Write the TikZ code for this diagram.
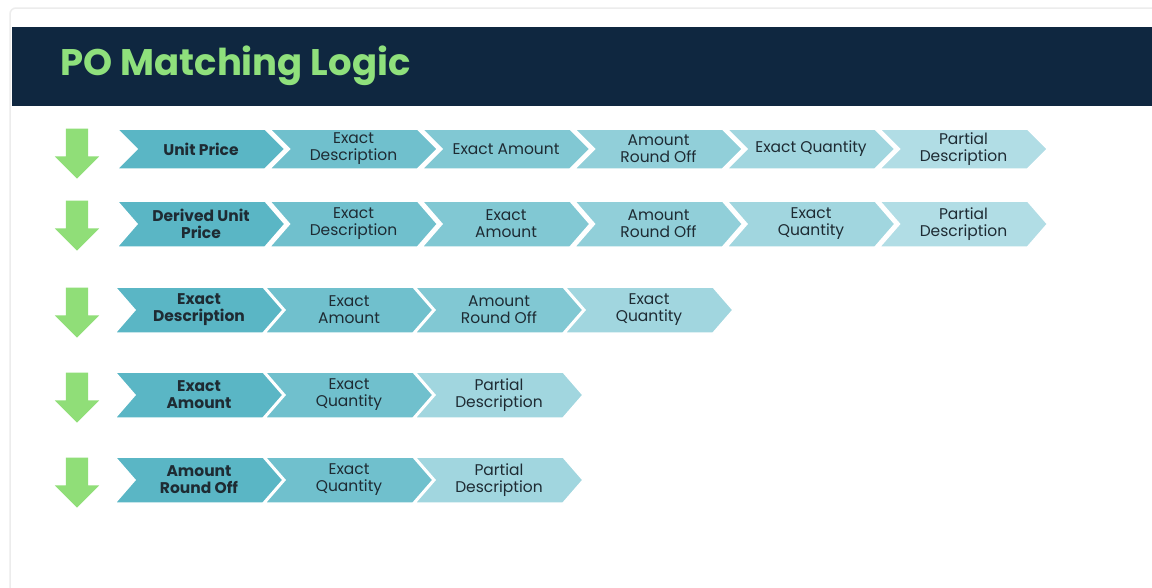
\documentclass[tikz,border=0pt]{standalone}
\usepackage{fontspec}
\setmainfont{Poppins}
\usetikzlibrary{shapes.symbols, shapes.arrows, positioning}
\definecolor{bannerblue}{HTML}{0F2740}
\definecolor{titlegreen}{HTML}{8FE07C}
\definecolor{arrowgreen}{HTML}{90DE78}
\definecolor{labelgray}{HTML}{1E2B33}
\definecolor{frameline}{HTML}{ECECEC}
\definecolor{tealA}{HTML}{5AB6C5}
\definecolor{tealB}{HTML}{70C0CD}
\definecolor{tealC}{HTML}{81C8D3}
\definecolor{tealD}{HTML}{91CFD9}
\definecolor{tealE}{HTML}{A1D6DF}
\definecolor{tealF}{HTML}{B1DDE5}

\begin{document}
\begin{tikzpicture}[x=1pt, y=-1pt,
		stepnode/.style={signal, signal from=west, signal to=east, signal pointer angle=98, minimum width=168pt, minimum height=46pt, inner sep=0pt, draw=white, line width=1.5pt, align=center, text=labelgray, font=\fontsize{15.5}{17}\selectfont},
		toprow/.style={minimum height=40pt, signal pointer angle=90},
		firststep/.style={stepnode, fill=tealA, font=\fontsize{15.5}{17}\selectfont\bfseries},
		downarrow/.style={single arrow, shape border rotate=270, fill=arrowgreen, draw=none, minimum height=50pt, minimum width=44pt, single arrow head extend=11pt, single arrow head indent=0pt, inner sep=11pt},
		]
		% Frame and banner
		\useasboundingbox (0,0) rectangle (1152,587);
		\fill[white] (0,0) rectangle (1152,587);
		\draw[frameline, line width=1.5pt, rounded corners=6pt] (10,600) -- (10,8) -- (1160,8);
		\fill[bannerblue] (12,27) rectangle (1152,106);
		\node[anchor=west, text=titlegreen, font=\fontsize{37}{40}\selectfont\bfseries] (title) at (57,66) {PO Matching Logic};

		% Nodes
		\node[downarrow]                        (arrow_row1)  at (77,148)   {};
		\node[downarrow]                        (arrow_row2)  at (77,220)   {};
		\node[downarrow]                        (arrow_row3)  at (77,307)   {};
		\node[downarrow]                        (arrow_row4)  at (77,392)   {};
		\node[downarrow]                        (arrow_row5)  at (77,477)   {};

		\node[firststep, toprow]                (unit_price_row1)       at (201,149)     {Unit Price};
		\node[stepnode, toprow, fill=tealB]     (exact_desc_row1)       at (353.5,149)   {Exact\\Description};
		\node[stepnode, toprow, fill=tealC]     (exact_amount_row1)     at (506,149)     {Exact Amount};
		\node[stepnode, toprow, fill=tealD]     (round_off_row1)        at (658.5,149)   {Amount\\Round Off};
		\node[stepnode, toprow, fill=tealE]     (exact_qty_row1)        at (811,149)     {Exact Quantity};
		\node[stepnode, toprow, fill=tealF]     (partial_desc_row1)     at (963.5,149)   {Partial\\Description};

		\node[firststep]                        (derived_price_row2)    at (201,224)     {Derived Unit\\Price};
		\node[stepnode, fill=tealB]             (exact_desc_row2)       at (353.5,224)   {Exact\\Description};
		\node[stepnode, fill=tealC]             (exact_amount_row2)     at (506,224)     {Exact\\Amount};
		\node[stepnode, fill=tealD]             (round_off_row2)        at (658.5,224)   {Amount\\Round Off};
		\node[stepnode, fill=tealE]             (exact_qty_row2)        at (811,224)     {Exact\\Quantity};
		\node[stepnode, fill=tealF]             (partial_desc_row2)     at (963.5,224)   {Partial\\Description};

		\node[firststep]                        (exact_desc_row3)       at (199,310)     {Exact\\Description};
		\node[stepnode, fill=tealB]             (exact_amount_row3)     at (349,310)     {Exact\\Amount};
		\node[stepnode, fill=tealC]             (round_off_row3)        at (499,310)     {Amount\\Round Off};
		\node[stepnode, fill=tealE]             (exact_qty_row3)        at (649,310)     {Exact\\Quantity};

		\node[firststep]                        (exact_amount_row4)     at (199,395)     {Exact\\Amount};
		\node[stepnode, fill=tealB]             (exact_qty_row4)        at (349,395)     {Exact\\Quantity};
		\node[stepnode, fill=tealE]             (partial_desc_row4)     at (499,395)     {Partial\\Description};

		\node[firststep]                        (round_off_row5)        at (199,480)     {Amount\\Round Off};
		\node[stepnode, fill=tealB]             (exact_qty_row5)        at (349,480)     {Exact\\Quantity};
		\node[stepnode, fill=tealE]             (partial_desc_row5)     at (499,480)     {Partial\\Description};
\end{tikzpicture}
\end{document}
